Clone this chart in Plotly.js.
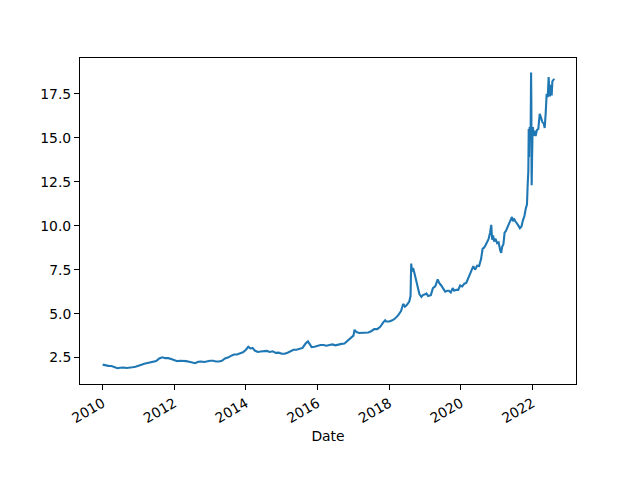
<!DOCTYPE html>
<html>
<head>
<meta charset="utf-8">
<script src="https://cdn.plot.ly/plotly-3.0.1.min.js"></script>
<style>html,body{margin:0;padding:0;background:#fff;}#chart{width:640px;height:480px;}</style>
</head>
<body>
<div id="chart"></div>
<script>
const dates = [
"2010-01-01","2010-02-01","2010-03-01","2010-04-01","2010-05-01","2010-06-01","2010-07-01","2010-08-01","2010-09-01","2010-10-01","2010-11-01","2010-12-01",
"2011-01-01","2011-02-01","2011-03-01","2011-04-01","2011-05-01","2011-06-01","2011-07-01","2011-08-01","2011-09-01","2011-10-01","2011-11-01","2011-12-01",
"2012-01-01","2012-02-01","2012-03-01","2012-04-01","2012-05-01","2012-06-01","2012-07-01","2012-08-01","2012-09-01","2012-10-01","2012-11-01","2012-12-01",
"2013-01-01","2013-02-01","2013-03-01","2013-04-01","2013-05-01","2013-06-01","2013-07-01","2013-08-01","2013-09-01","2013-10-01","2013-11-01","2013-12-01",
"2014-01-01","2014-01-25","2014-02-15","2014-03-10","2014-04-01","2014-05-01","2014-06-01","2014-07-01","2014-08-01","2014-09-01","2014-10-01","2014-11-01","2014-12-01",
"2015-01-01","2015-02-01","2015-03-01","2015-04-01","2015-05-01","2015-06-01","2015-07-01","2015-08-01","2015-09-01","2015-09-25","2015-10-15","2015-11-01","2015-12-01",
"2016-01-01","2016-02-01","2016-03-01","2016-04-01","2016-05-01","2016-06-01","2016-07-01","2016-08-01","2016-09-01","2016-10-01","2016-11-01","2016-12-01",
"2017-01-01","2017-01-12","2017-02-01","2017-03-01","2017-04-01","2017-05-01","2017-06-01","2017-07-01","2017-08-01","2017-09-01","2017-10-01","2017-11-01","2017-11-20","2017-12-01",
"2018-01-01","2018-02-01","2018-03-01","2018-04-01","2018-05-01","2018-05-23","2018-06-10","2018-07-01","2018-07-25","2018-08-06","2018-08-13","2018-08-20","2018-09-01","2018-09-15","2018-10-01","2018-10-20","2018-11-05","2018-11-25","2018-12-10",
"2019-01-01","2019-01-15","2019-02-01","2019-03-01","2019-03-22","2019-04-15","2019-05-10","2019-05-25","2019-06-15","2019-07-05","2019-07-25","2019-08-15","2019-09-01","2019-09-20","2019-10-10","2019-10-25","2019-11-15","2019-12-05","2019-12-25",
"2020-01-15","2020-02-05","2020-02-25","2020-03-15","2020-04-01","2020-04-20","2020-05-07","2020-05-25","2020-06-15","2020-07-05","2020-07-25","2020-08-10","2020-08-25","2020-09-10","2020-09-25","2020-10-10","2020-10-25","2020-11-06","2020-11-15","2020-11-25","2020-12-05","2020-12-20",
"2021-01-05","2021-01-20","2021-02-05","2021-02-15","2021-02-25","2021-03-10","2021-03-22","2021-04-05","2021-04-20","2021-05-05","2021-05-20","2021-06-05","2021-06-15","2021-06-25","2021-07-10","2021-07-25","2021-08-10","2021-08-25","2021-09-10","2021-09-25","2021-10-10","2021-10-25",
"2021-11-05","2021-11-12","2021-11-19","2021-11-23","2021-11-26","2021-11-30","2021-12-03","2021-12-08","2021-12-13","2021-12-17","2021-12-20","2021-12-21","2021-12-23","2021-12-27","2021-12-31",
"2022-01-05","2022-01-12","2022-01-20","2022-02-01","2022-02-15","2022-03-01","2022-03-15","2022-03-25","2022-04-10","2022-04-25","2022-05-05","2022-05-15","2022-05-25","2022-06-05","2022-06-14","2022-06-20","2022-06-28","2022-07-05","2022-07-15","2022-07-22","2022-08-01","2022-08-10"
];
const values = [
2.10,2.05,2.03,2.02,1.98,1.90,1.92,1.94,1.91,1.95,1.95,1.98,
2.02,2.10,2.15,2.18,2.22,2.24,2.30,2.45,2.52,2.47,2.47,2.42,
2.38,2.30,2.32,2.33,2.30,2.26,2.20,2.18,2.26,2.28,2.25,2.30,
2.32,2.32,2.28,2.28,2.32,2.45,2.50,2.60,2.68,2.68,2.72,2.80,
2.95,3.12,3.02,3.05,2.90,2.82,2.85,2.86,2.88,2.82,2.86,2.77,2.78,
2.72,2.72,2.78,2.85,2.95,2.95,2.98,3.05,3.30,3.42,3.25,3.10,3.12,
3.18,3.22,3.22,3.18,3.22,3.25,3.20,3.25,3.28,3.30,3.45,3.60,
3.75,4.08,3.95,3.90,3.90,3.92,3.93,4.00,4.12,4.12,4.25,4.50,4.62,4.55,
4.55,4.62,4.72,4.90,5.15,5.55,5.40,5.50,5.70,6.00,7.85,7.40,7.60,7.30,6.90,6.50,6.10,5.95,6.05,
6.10,6.15,6.00,6.05,6.45,6.55,6.95,6.75,6.60,6.40,6.25,6.30,6.30,6.20,6.45,6.30,6.35,6.35,6.60,
6.55,6.70,6.75,7.00,7.30,7.55,7.70,7.50,7.72,7.70,8.10,8.70,8.75,8.90,9.10,9.25,9.60,10.05,9.20,9.45,9.10,9.25,
9.00,9.05,8.60,8.45,8.80,8.95,9.60,9.70,9.90,10.10,10.30,10.50,10.25,10.40,10.25,10.15,10.00,9.85,9.95,10.30,10.55,11.00,
11.20,12.30,13.10,15.50,13.90,15.20,15.60,14.90,15.80,18.70,17.00,14.00,12.30,13.80,15.00,
15.60,15.10,15.40,15.10,15.45,15.50,16.35,16.20,15.90,15.80,15.55,16.40,17.50,17.30,18.45,17.70,17.35,18.00,17.40,18.20,18.30,18.35
];
const xTickVals = ["2010-01-01","2012-01-01","2014-01-01","2016-01-01","2018-01-01","2020-01-01","2022-01-01"];
const xTickText = ["2010","2012","2014","2016","2018","2020","2022"];
const yTickVals = [2.5,5.0,7.5,10.0,12.5,15.0,17.5];

const font = {family: "DejaVu Sans, sans-serif", size: 13.9, color: "#000"};
const trace = {
  x: dates, y: values, type: "scatter", mode: "lines",
  line: {color: "#1f77b4", width: 2.1}, hoverinfo: "skip"
};
const layout = {
  width: 640, height: 480,
  margin: {l: 80, r: 64, t: 58, b: 96, pad: 0},
  paper_bgcolor: "#fff", plot_bgcolor: "#fff",
  font: font, showlegend: false,
  xaxis: {
    type: "date", range: ["2009-05-15", "2023-03-20"],
    tickvals: xTickVals, ticktext: xTickText, tickangle: -30,
    ticks: "outside", ticklen: 5, tickwidth: 1, tickcolor: "#000",
    showline: true, linecolor: "#000", linewidth: 1, mirror: true,
    showgrid: false, zeroline: false, automargin: false,
    title: {text: "Date", font: font, standoff: 6}
  },
  yaxis: {
    range: [1.0, 19.53], tickvals: yTickVals, tickformat: ".1f",
    ticks: "outside", ticklen: 5, tickwidth: 1, tickcolor: "#000",
    showline: true, linecolor: "#000", linewidth: 1, mirror: true,
    showgrid: false, zeroline: false, automargin: false
  }
};
Plotly.newPlot("chart", [trace], layout, {staticPlot: true, displayModeBar: false});
</script>
</body>
</html>
